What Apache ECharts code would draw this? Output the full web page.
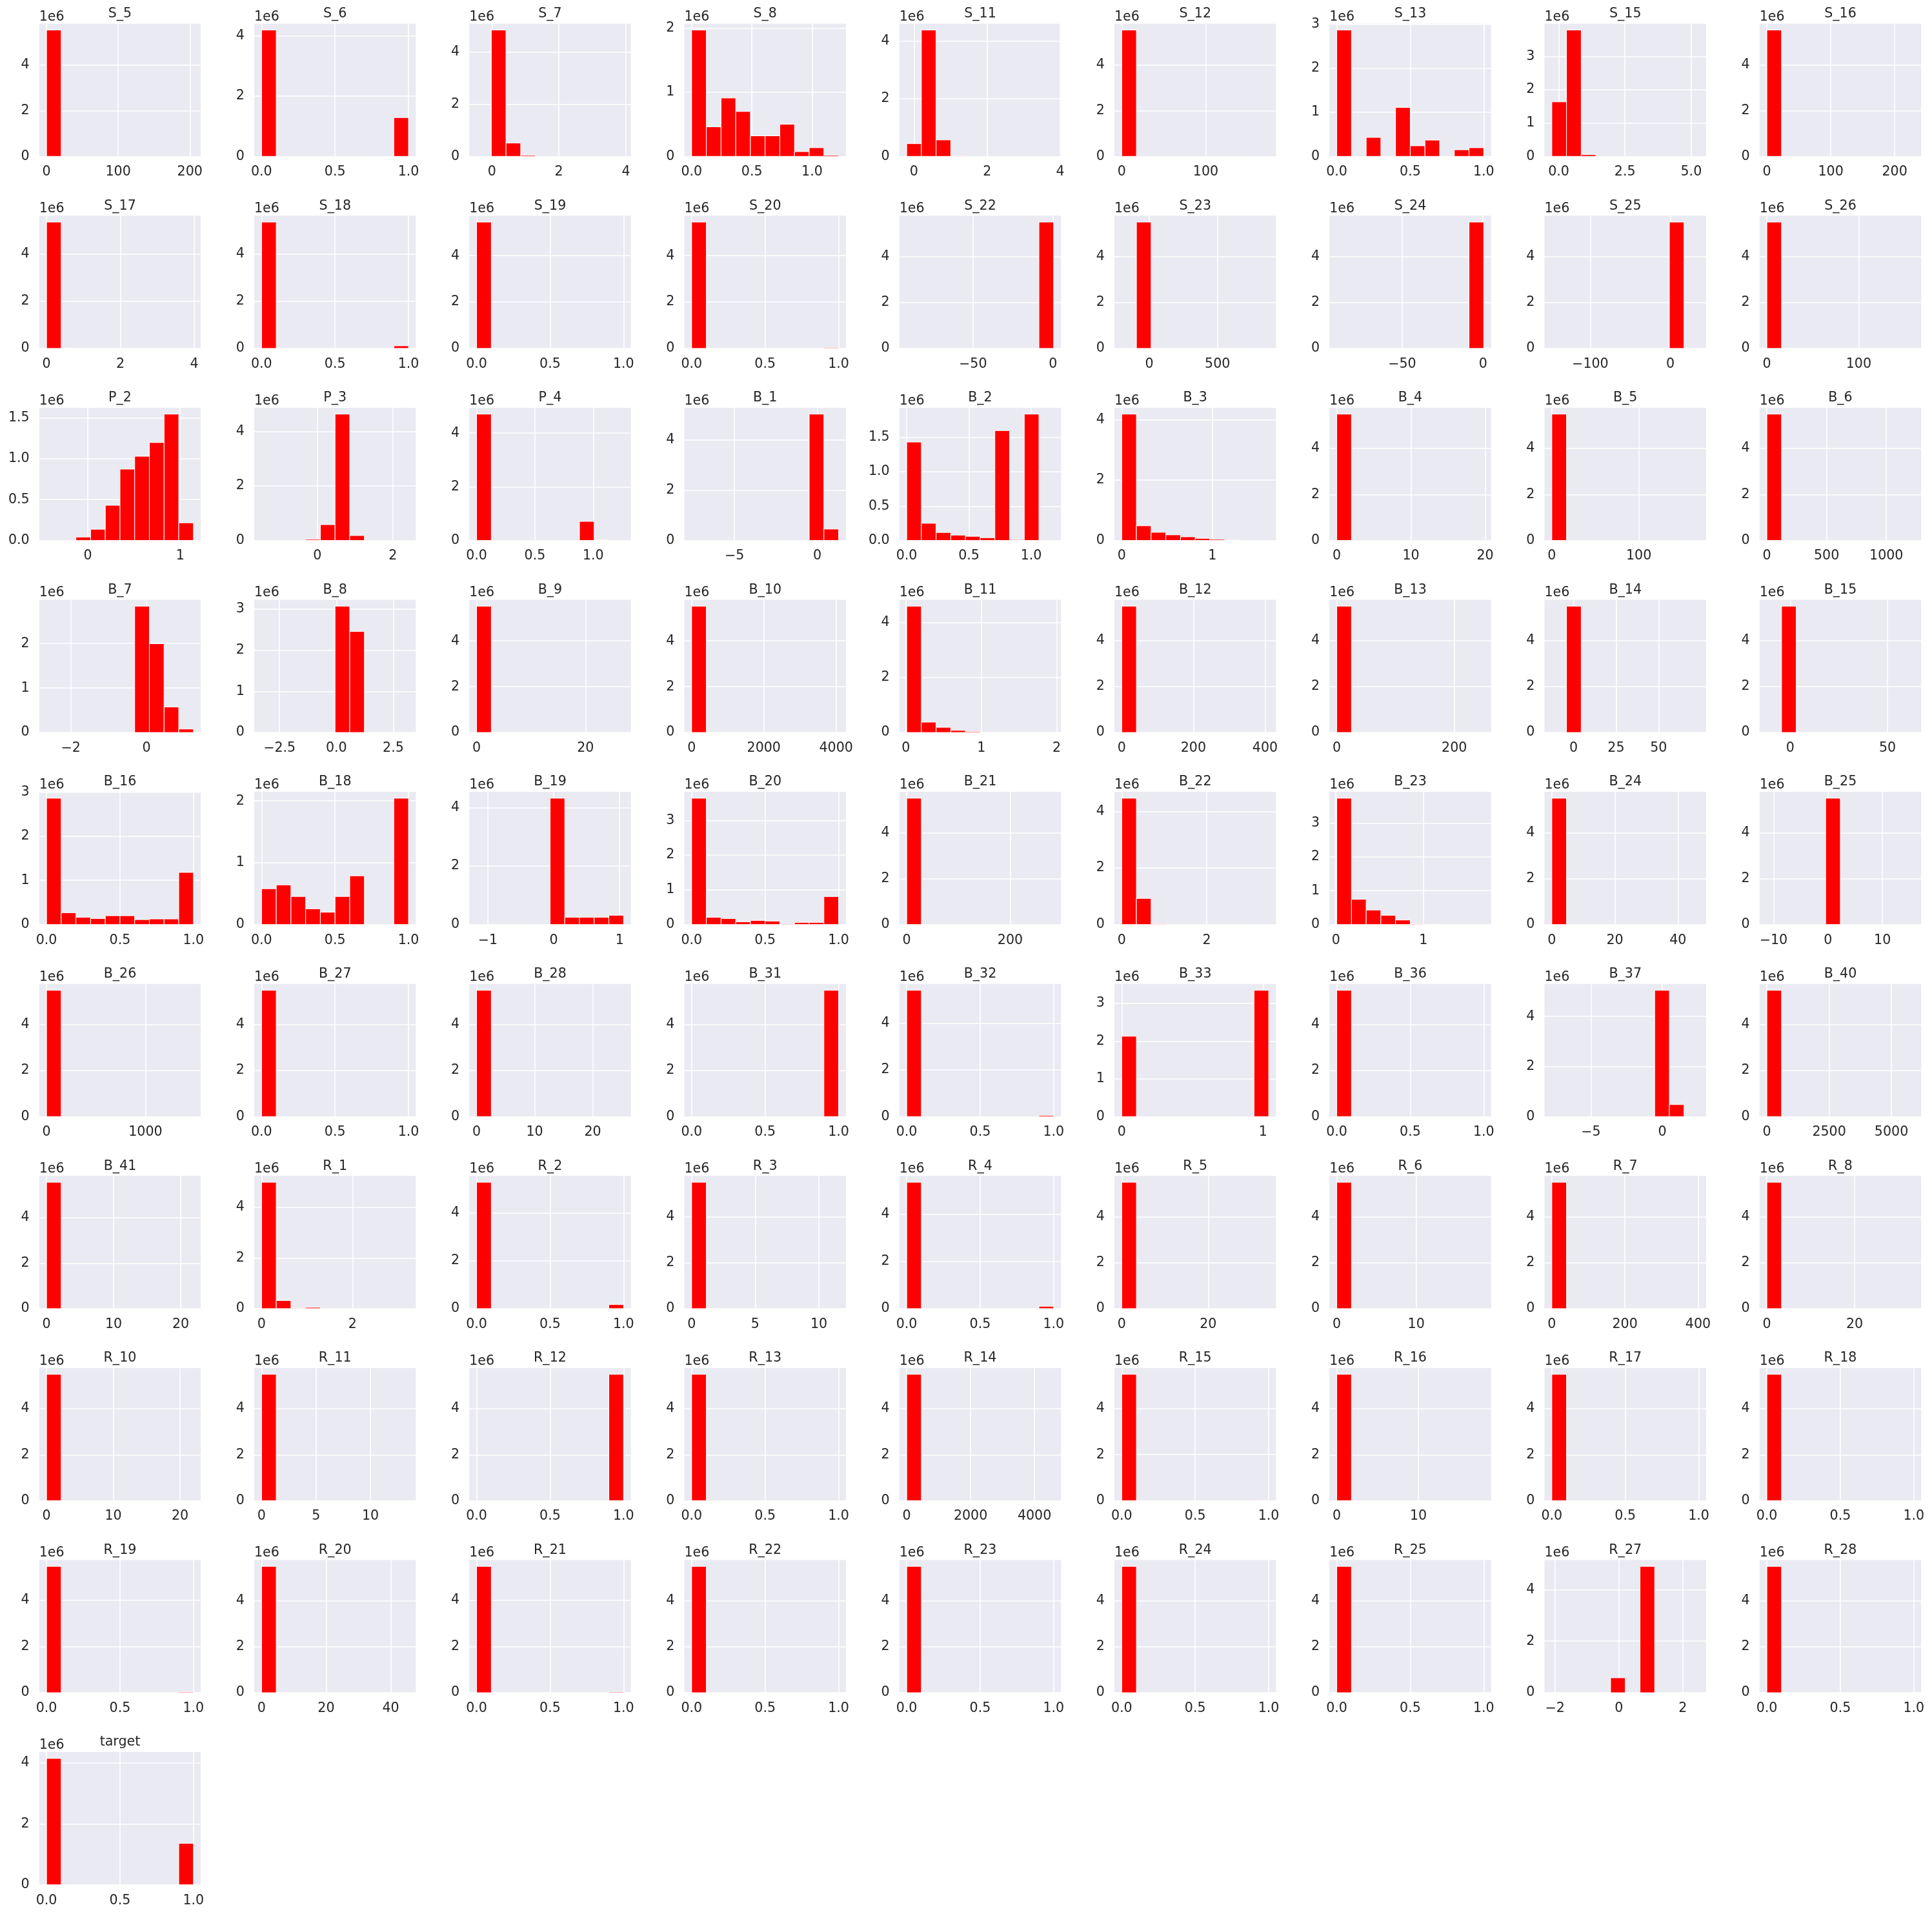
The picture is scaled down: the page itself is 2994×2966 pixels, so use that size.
<!DOCTYPE html>
<html><head><meta charset="utf-8">
<script src="https://cdn.jsdelivr.net/npm/echarts@6/dist/echarts.min.js"></script>
<style>html,body{margin:0;padding:0;background:#fff}#chart{width:2994px;height:2966px}</style>
</head><body><div id="chart"></div>
<script>
// ---------- data ----------
const names = [
 'S_5','S_6','S_7','S_8','S_11','S_12','S_13','S_15','S_16',
 'S_17','S_18','S_19','S_20','S_22','S_23','S_24','S_25','S_26',
 'P_2','P_3','P_4','B_1','B_2','B_3','B_4','B_5','B_6',
 'B_7','B_8','B_9','B_10','B_11','B_12','B_13','B_14','B_15',
 'B_16','B_18','B_19','B_20','B_21','B_22','B_23','B_24','B_25',
 'B_26','B_27','B_28','B_31','B_32','B_33','B_36','B_37','B_40',
 'B_41','R_1','R_2','R_3','R_4','R_5','R_6','R_7','R_8',
 'R_10','R_11','R_12','R_13','R_14','R_15','R_16','R_17','R_18',
 'R_19','R_20','R_21','R_22','R_23','R_24','R_25','R_27','R_28',
 'target'];

// data range of each histogram (first and last bin edge)
const binMin = [
 0, 0, -0.456, 0, -0.2, 0, 0, -0.26, 0,
 0, 0, 0, 0, -91.4, -202, -90.5, -148, 0,
 -0.447, -1.479, 0, -7.58, 0, 0, 0, 0, 0,
 -2.642, -3.29, 0, 0, 0.01, 0, 0, -12.8, -12,
 0, 0, -1.169, 0, 0, 0, 0.01, 0, -11.23,
 0, 0, 0, 0, 0, 0, 0, -7.73, 0,
 0, 0, 0, 0, 0, 0, 0, 0, 0,
 0, 0, 0, 0, 0, 0, 0, 0, 0,
 0, 0, 0, 0, 0, 0, 0, -2.1, 0,
 0];
const binMax = [
 205, 1, 3.93, 1.22, 3.82, 175, 1, 5.285, 230,
 3.98, 1, 1, 1, 0.4, 875, 0.45, 35.5, 160,
 1.144, 2.415, 1.26, 1.29, 1.18, 1.62, 19.8, 169, 1230,
 1.242, 3.17, 27, 4070, 1.96, 410, 250, 73.6, 63.5,
 1, 1, 1.06, 1, 284, 3.46, 1.69, 46.6, 15.77,
 1485, 1, 25.3, 1, 1, 1.04, 1, 2.55, 5900,
 21.9, 3.23, 1, 11.55, 1, 34, 18.5, 402, 33.5,
 22, 13.5, 1, 1, 4600, 1, 18, 1, 1,
 1, 45.5, 1, 1, 1, 1, 1, 2.5, 1,
 1];

// counts of the 10 bins, in millions (axis offset 1e6)
const countsMillions = [
 [5.52,0,0,0,0,0,0,0,0,0],
 [4.20,0,0,0,0,0,0,0,0,1.29],
 [0,4.85,0.51,0.04,0,0,0,0,0,0],
 [1.97,0.46,0.91,0.70,0.32,0.32,0.50,0.074,0.135,0.017],
 [0.44,4.38,0.57,0.02,0,0,0,0,0,0],
 [5.52,0,0,0,0,0,0,0,0,0],
 [2.87,0,0.43,0,1.11,0.24,0.37,0,0.15,0.196],
 [1.635,3.79,0.05,0,0,0,0,0,0,0],
 [5.52,0,0,0,0,0,0,0,0,0],

 [5.37,0.01,0,0,0,0,0,0,0,0],
 [5.37,0,0,0,0,0,0,0,0,0.11],
 [5.45,0,0,0,0,0,0,0,0,0],
 [5.45,0,0,0,0,0,0,0,0,0.03],
 [0,0,0,0,0,0,0,0,0,5.52],
 [0,5.52,0,0,0,0,0,0,0,0],
 [0,0,0,0,0,0,0,0,0,5.52],
 [0,0,0,0,0,0,0,0,5.52,0],
 [5.52,0,0,0,0,0,0,0,0,0],

 [0,0,0.042,0.137,0.43,0.873,1.03,1.198,1.546,0.216],
 [0,0,0,0.04,0.58,4.63,0.18,0,0,0],
 [4.71,0,0,0,0,0,0,0.71,0.02,0],
 [0,0,0,0,0,0,0,0,5.04,0.455],
 [1.433,0.25,0.116,0.078,0.06,0.04,1.60,0.0125,1.84,0],
 [4.19,0.486,0.27,0.186,0.12,0.07,0.036,0.01,0,0],
 [5.5,0,0,0,0,0,0,0,0,0],
 [5.5,0,0,0,0,0,0,0,0,0],
 [5.5,0,0,0,0,0,0,0,0,0],

 [0,0,0,0,0,0,2.84,1.995,0.573,0.078],
 [0,0,0,0,0,3.07,2.454,0,0,0],
 [5.52,0,0,0,0,0,0,0,0,0],
 [5.52,0,0,0,0,0,0,0,0,0],
 [4.606,0.378,0.189,0.079,0.03,0,0,0,0,0],
 [5.5,0,0,0,0,0,0,0,0,0],
 [5.5,0,0,0,0,0,0,0,0,0],
 [0,5.5,0,0,0,0,0,0,0,0],
 [0,5.5,0,0,0,0,0,0,0,0],

 [2.86,0.268,0.166,0.137,0.2,0.2,0.112,0.127,0.127,1.18],
 [0.58,0.642,0.454,0.255,0.2,0.454,0.789,0,0,2.045],
 [0,0,0,0,0,4.317,0.25,0.25,0.25,0.317],
 [3.64,0.21,0.174,0.08,0.118,0.1,0.025,0.062,0.062,0.807],
 [5.5,0,0,0,0,0,0,0,0,0],
 [4.466,0.924,0.03,0,0,0,0,0,0,0],
 [3.733,0.747,0.43,0.274,0.134,0.025,0.006,0,0,0],
 [5.5,0,0,0,0,0,0,0,0,0],
 [0,0,0,0,5.5,0,0,0,0,0],

 [5.5,0,0,0,0,0,0,0,0,0],
 [5.5,0,0,0,0,0,0,0,0,0],
 [5.5,0,0,0,0,0,0,0,0,0],
 [0,0,0,0,0,0,0,0,0,5.5],
 [5.4,0,0,0,0,0,0,0,0,0.053],
 [2.13,0,0,0,0,0,0,0,0,3.35],
 [5.5,0,0,0,0,0,0,0,0,0],
 [0,0,0,0,0,0,0,5.05,0.48,0],
 [5.5,0,0,0,0,0,0,0,0,0],

 [5.55,0,0,0,0,0,0,0,0,0],
 [4.98,0.32,0.02,0.05,0,0,0,0,0,0],
 [5.3,0,0,0,0,0,0,0,0,0.17],
 [5.5,0,0,0,0,0,0,0,0,0],
 [5.37,0,0,0,0,0,0,0,0,0.1],
 [5.5,0,0,0,0,0,0,0,0,0],
 [5.5,0,0,0,0,0,0,0,0,0],
 [5.5,0,0,0,0,0,0,0,0,0],
 [5.5,0,0,0,0,0,0,0,0,0],

 [5.5,0,0,0,0,0,0,0,0,0],
 [5.5,0,0,0,0,0,0,0,0,0],
 [0,0,0,0,0,0,0,0,0,5.5],
 [5.5,0,0,0,0,0,0,0,0,0],
 [5.5,0,0,0,0,0,0,0,0,0],
 [5.49,0,0,0,0,0,0,0,0,0.02],
 [5.5,0,0,0,0,0,0,0,0,0],
 [5.5,0,0,0,0,0,0,0,0,0],
 [5.5,0,0,0,0,0,0,0,0,0],

 [5.47,0,0,0,0,0,0,0,0,0.03],
 [5.5,0,0,0,0,0,0,0,0,0],
 [5.47,0,0,0,0,0,0,0,0,0.03],
 [5.5,0,0,0,0,0,0,0,0,0],
 [5.5,0,0,0,0,0,0,0,0,0],
 [5.5,0,0,0,0,0,0,0,0,0],
 [5.5,0,0,0,0,0,0,0,0,0],
 [0,0,0,0,0.58,0,4.9,0,0,0],
 [5.5,0,0,0,0,0,0,0,0,0],

 [4.15,0,0,0,0,0,0,0,0,1.36]
];

const U01 = ['0.0','0.5','1.0'];
const xTickLabels = [
 ['0','100','200'], U01, ['0','2','4'], U01, ['0','2','4'], ['0','100'], U01, ['0.0','2.5','5.0'], ['0','100','200'],
 ['0','2','4'], U01, U01, U01, ['\u221250','0'], ['0','500'], ['\u221250','0'], ['\u2212100','0'], ['0','100'],
 ['0','1'], ['0','2'], U01, ['\u22125','0'], U01, ['0','1'], ['0','10','20'], ['0','100'], ['0','500','1000'],
 ['\u22122','0'], ['\u22122.5','0.0','2.5'], ['0','20'], ['0','2000','4000'], ['0','1','2'], ['0','200','400'], ['0','200'], ['0','25','50'], ['0','50'],
 U01, U01, ['\u22121','0','1'], U01, ['0','200'], ['0','2'], ['0','1'], ['0','20','40'], ['\u221210','0','10'],
 ['0','1000'], U01, ['0','10','20'], U01, U01, ['0','1'], U01, ['\u22125','0'], ['0','2500','5000'],
 ['0','10','20'], ['0','2'], U01, ['0','5','10'], U01, ['0','20'], ['0','10'], ['0','200','400'], ['0','20'],
 ['0','10','20'], ['0','5','10'], U01, U01, ['0','2000','4000'], U01, ['0','10'], U01, U01,
 U01, ['0','20','40'], U01, U01, U01, U01, U01, ['\u22122','0','2'], U01,
 U01
];

const Y024 = ['0','2','4'], Y012 = ['0','1','2'], Y0123 = ['0','1','2','3'], Y05 = ['0.0','0.5','1.0','1.5'];
const yTickLabels = [
 Y024, Y024, Y024, Y012, Y024, Y024, Y0123, Y0123, Y024,
 Y024, Y024, Y024, Y024, Y024, Y024, Y024, Y024, Y024,
 Y05, Y024, Y024, Y024, Y05, Y024, Y024, Y024, Y024,
 Y012, Y0123, Y024, Y024, Y024, Y024, Y024, Y024, Y024,
 Y0123, Y012, Y024, Y0123, Y024, Y024, Y0123, Y024, Y024,
 Y024, Y024, Y024, Y024, Y024, Y0123, Y024, Y024, Y024,
 Y024, Y024, Y024, Y024, Y024, Y024, Y024, Y024, Y024,
 Y024, Y024, Y024, Y024, Y024, Y024, Y024, Y024, Y024,
 Y024, Y024, Y024, Y024, Y024, Y024, Y024, Y024, Y024,
 Y024
];

// ---------- layout & style ----------
const COLS = 9;
const LEFT0 = 60.7, TOP0 = 36.7, COL_STEP = 333.25, ROW_STEP = 297.6, GW = 250.5, GH = 205.6;
const FONT = 'DejaVu Sans', FS = 20.6, INK = '#262626';
const toNum = s => parseFloat(s.replace('\u2212', '-'));
const labelFor = (vals, labels) => v => {
  const k = vals.findIndex(t => Math.abs(t - v) <= 1e-9 * Math.max(1, Math.abs(t)));
  return k >= 0 ? labels[k] : '';
};
const txt = {fontFamily: FONT, fontSize: FS, color: INK};

const grid = [], xAxis = [], yAxis = [], series = [], title = [];
names.forEach((name, i) => {
  const col = i % COLS, row = Math.floor(i / COLS);
  const left = LEFT0 + col * COL_STEP, top = TOP0 + row * ROW_STEP;
  grid.push({left, top, width: GW, height: GH, show: true, backgroundColor: '#EAEAF2', borderWidth: 0});

  const lo = binMin[i], hi = binMax[i], span = hi - lo;
  const counts = countsMillions[i];
  const yTop = Math.max(...counts);
  const xVals = xTickLabels[i].map(toNum), yVals = yTickLabels[i].map(toNum);

  xAxis.push({
    gridIndex: i, type: 'value', position: 'bottom', min: lo - 0.05 * span, max: hi + 0.05 * span,
    axisLine: {show: false, onZero: false}, axisTick: {show: false, customValues: xVals},
    axisLabel: Object.assign({customValues: xVals, formatter: labelFor(xVals, xTickLabels[i]), margin: 14}, txt),
    splitLine: {show: true, lineStyle: {color: '#FFFFFF', width: 1.6}}
  });
  yAxis.push({
    gridIndex: i, type: 'value', position: 'left', min: 0, max: yTop * 1.05,
    name: '1e6', nameLocation: 'end', nameGap: 10.5,
    nameTextStyle: Object.assign({align: 'left', verticalAlign: 'middle', lineHeight: 21}, txt),
    axisLine: {show: false, onZero: false}, axisTick: {show: false, customValues: yVals},
    axisLabel: Object.assign({customValues: yVals, formatter: labelFor(yVals, yTickLabels[i]), margin: 15}, txt),
    splitLine: {show: true, lineStyle: {color: '#FFFFFF', width: 1.6}}
  });
  title.push({
    text: name, left: left + GW / 2, top: top - 25.5, textAlign: 'center', padding: 0,
    textStyle: Object.assign({fontWeight: 'normal', lineHeight: 21}, txt)
  });

  const data = [];
  counts.forEach((c, k) => {
    if (c > 0) data.push([lo + span * k / 10, lo + span * (k + 1) / 10, c]);
  });
  series.push({
    type: 'custom', xAxisIndex: i, yAxisIndex: i, data,
    encode: {x: [0, 1], y: 2},
    renderItem: (params, api) => {
      const a = api.coord([api.value(0), 0]);
      const b = api.coord([api.value(1), api.value(2)]);
      return {type: 'rect', shape: {x: a[0], y: b[1], width: b[0] - a[0], height: a[1] - b[1]},
              style: {fill: '#FF0000', stroke: '#FFFFFF', lineWidth: 1}};
    }
  });
});

const chart = echarts.init(document.getElementById('chart'), null, {renderer: 'canvas'});
chart.setOption({animation: false, backgroundColor: '#FFFFFF', title, grid, xAxis, yAxis, series});
</script></body></html>
